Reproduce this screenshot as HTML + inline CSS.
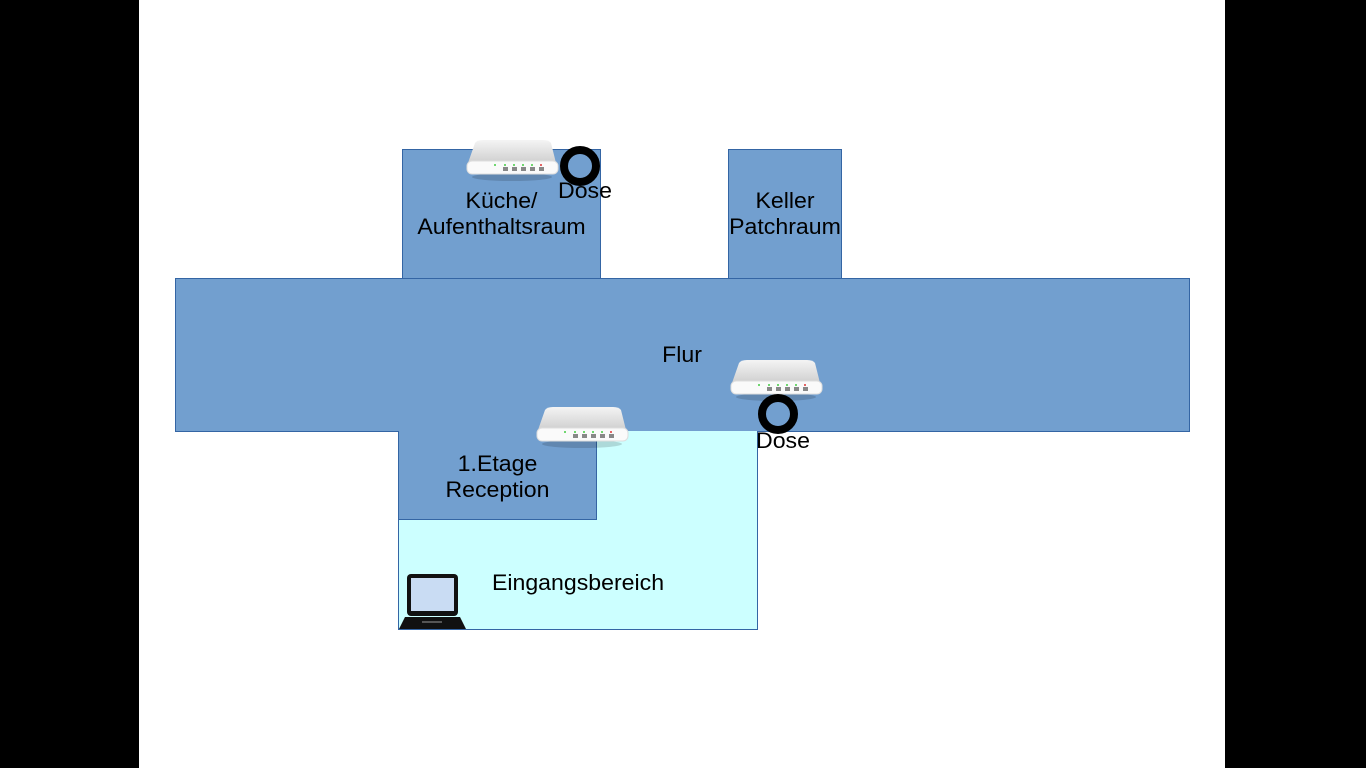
<!DOCTYPE html>
<html><head><meta charset="utf-8"><style>
body{margin:0;width:1366px;height:768px;background:#000;position:relative;overflow:hidden;font-family:"Liberation Sans",sans-serif}
.a{position:absolute;box-sizing:border-box}
.r{background:#729fcf;border:1px solid #3465a4}
.t{position:absolute;font-size:22px;color:#000;text-align:center;line-height:26px;white-space:nowrap;transform:scaleX(1.05)}
.ring{position:absolute;width:40px;height:40px;border-radius:50%;border:8px solid #000;box-sizing:border-box}
</style></head><body>
<div class="a" style="left:139px;top:0;width:1086px;height:768px;background:#fff"></div>
<div class="a r" style="left:402px;top:149px;width:199px;height:130px"></div>
<div class="a r" style="left:728px;top:149px;width:114px;height:130px"></div>
<div class="a r" style="left:175px;top:278px;width:1015px;height:154px"></div>
<div class="a" style="left:398px;top:431px;width:360px;height:199px;background:#ccffff;border:1px solid #3465a4;border-top:none"></div>
<div class="a r" style="left:398px;top:431px;width:199px;height:89px;border-top:none"></div>

<svg class="a" style="left:0;top:0" width="1366" height="768">
<defs><linearGradient id="g" x1="0" y1="0" x2="0" y2="1"><stop offset="0" stop-color="#f4f4f4"/><stop offset="1" stop-color="#cfcfcf"/></linearGradient>
<g id="rt">
<ellipse cx="45" cy="38" rx="40" ry="4" fill="#000" opacity="0.15"/>
<path d="M8 4 Q10 1 16 1 L76 1 Q82 1 84 4 L89 24 L1 24 Z" fill="url(#g)"/>
<rect x="0" y="22" width="91" height="13" rx="5" fill="#fafafa" stroke="#ddd"/>
<g fill="#888"><rect x="36" y="28" width="5" height="4"/><rect x="45" y="28" width="5" height="4"/><rect x="54" y="28" width="5" height="4"/><rect x="63" y="28" width="5" height="4"/><rect x="72" y="28" width="5" height="4"/></g>
<g fill="#4c4"><circle cx="28" cy="26" r="1"/><circle cx="38" cy="26" r="1"/><circle cx="47" cy="26" r="1"/><circle cx="56" cy="26" r="1"/><circle cx="65" cy="26" r="1"/></g><circle cx="74" cy="26" r="1" fill="#d33"/>
</g></defs>
<use href="#rt" x="467" y="139"/>
<use href="#rt" x="731" y="359"/>
<use href="#rt" x="537" y="406"/>
<g transform="translate(399,573)">
<rect x="8" y="1" width="51" height="42" rx="4" fill="#111"/>
<rect x="12" y="5" width="43" height="33" fill="#c9dcf3"/>
<path d="M0 56 L6 44 L61 44 L67 56 Z" fill="#111"/>
<rect x="23" y="48" width="20" height="2" fill="#555"/>
</g>
</svg>
<div class="ring" style="left:560px;top:146px"></div>
<div class="ring" style="left:758px;top:394px"></div>

<div class="t" style="left:402px;top:188px;width:199px">Küche/<br>Aufenthaltsraum</div>
<div class="t" style="left:728px;top:188px;width:114px">Keller<br>Patchraum</div>
<div class="t" style="left:632px;top:342px;width:100px">Flur</div>
<div class="t" style="left:398px;top:451px;width:199px">1.Etage<br>Reception</div>
<div class="t" style="left:478px;top:570px;width:200px">Eingangsbereich</div>
<div class="t" style="left:555px;top:178px;width:60px">Dose</div>
<div class="t" style="left:753px;top:428px;width:60px">Dose</div>
</body></html>
